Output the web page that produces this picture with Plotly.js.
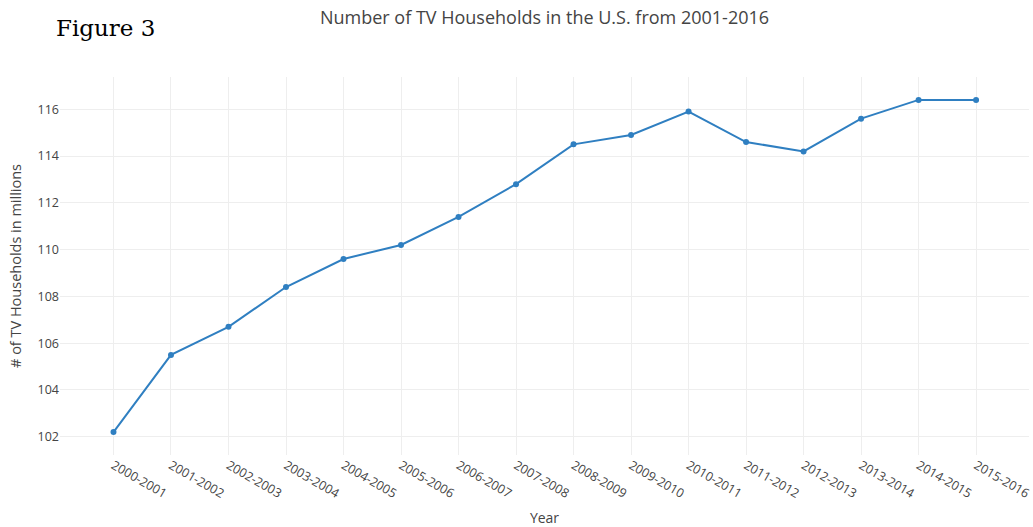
<!DOCTYPE html>
<html>
<head>
<meta charset="utf-8">
<script src="https://cdn.plot.ly/plotly-3.0.1.min.js"></script>
<style>html,body{margin:0;padding:0;background:#fff;}#chart{width:1033px;height:527px;}</style>
</head>
<body>
<div id="chart"></div>
<script>
const years = ["2000-2001","2001-2002","2002-2003","2003-2004","2004-2005","2005-2006","2006-2007","2007-2008","2008-2009","2009-2010","2010-2011","2011-2012","2012-2013","2013-2014","2014-2015","2015-2016"];
const households = [102.2,105.5,106.7,108.4,109.6,110.2,111.4,112.8,114.5,114.9,115.9,114.6,114.2,115.6,116.4,116.4];
const yTicks = [102,104,106,108,110,112,114,116];

const trace = {
  x: years, y: households, type: 'scatter', mode: 'lines+markers',
  line: {color: '#2f7fc1', width: 2},
  marker: {color: '#2f7fc1', size: 6},
  hoverinfo: 'x+y'
};
const layout = {
  width: 1033, height: 527,
  margin: {l: 60, r: 4, t: 77, b: 72},
  paper_bgcolor: '#fff', plot_bgcolor: '#fff',
  font: {family: '"Open Sans", sans-serif', color: '#444', size: 12},
  showlegend: false,
  title: {text: 'Number of TV Households in the U.S. from 2001-2016', font: {size: 18, color: '#444'}, xref: 'paper', x: 0.5, xanchor: 'center', yref: 'container', y: 0.966, yanchor: 'middle'},
  xaxis: {
    type: 'category', range: [-0.93, 15.92], tickangle: 30,
    showgrid: true, gridcolor: '#eeeeee', zeroline: false, showline: false, ticks: '',
    tickfont: {size: 12.5, color: '#444'},
    title: {text: 'Year', font: {size: 14, color: '#444'}, standoff: 16}
  },
  yaxis: {
    range: [101.22, 117.38], tickvals: yTicks, ticktext: yTicks.map(String),
    showgrid: true, gridcolor: '#eeeeee', zeroline: false, showline: false, ticks: '',
    tickfont: {size: 12.5, color: '#444'},
    title: {text: '# of TV Households in millions', font: {size: 14.5, color: '#444'}, standoff: 12}
  },
  annotations: [{
    text: 'Figure 3', xref: 'paper', yref: 'paper', x: -0.006, y: 1.13, xanchor: 'left', yanchor: 'middle',
    showarrow: false, font: {family: '"DejaVu Serif", serif', size: 23, color: '#000'}
  }]
};
Plotly.newPlot('chart', [trace], layout, {displayModeBar: false, staticPlot: true});
</script>
</body>
</html>
